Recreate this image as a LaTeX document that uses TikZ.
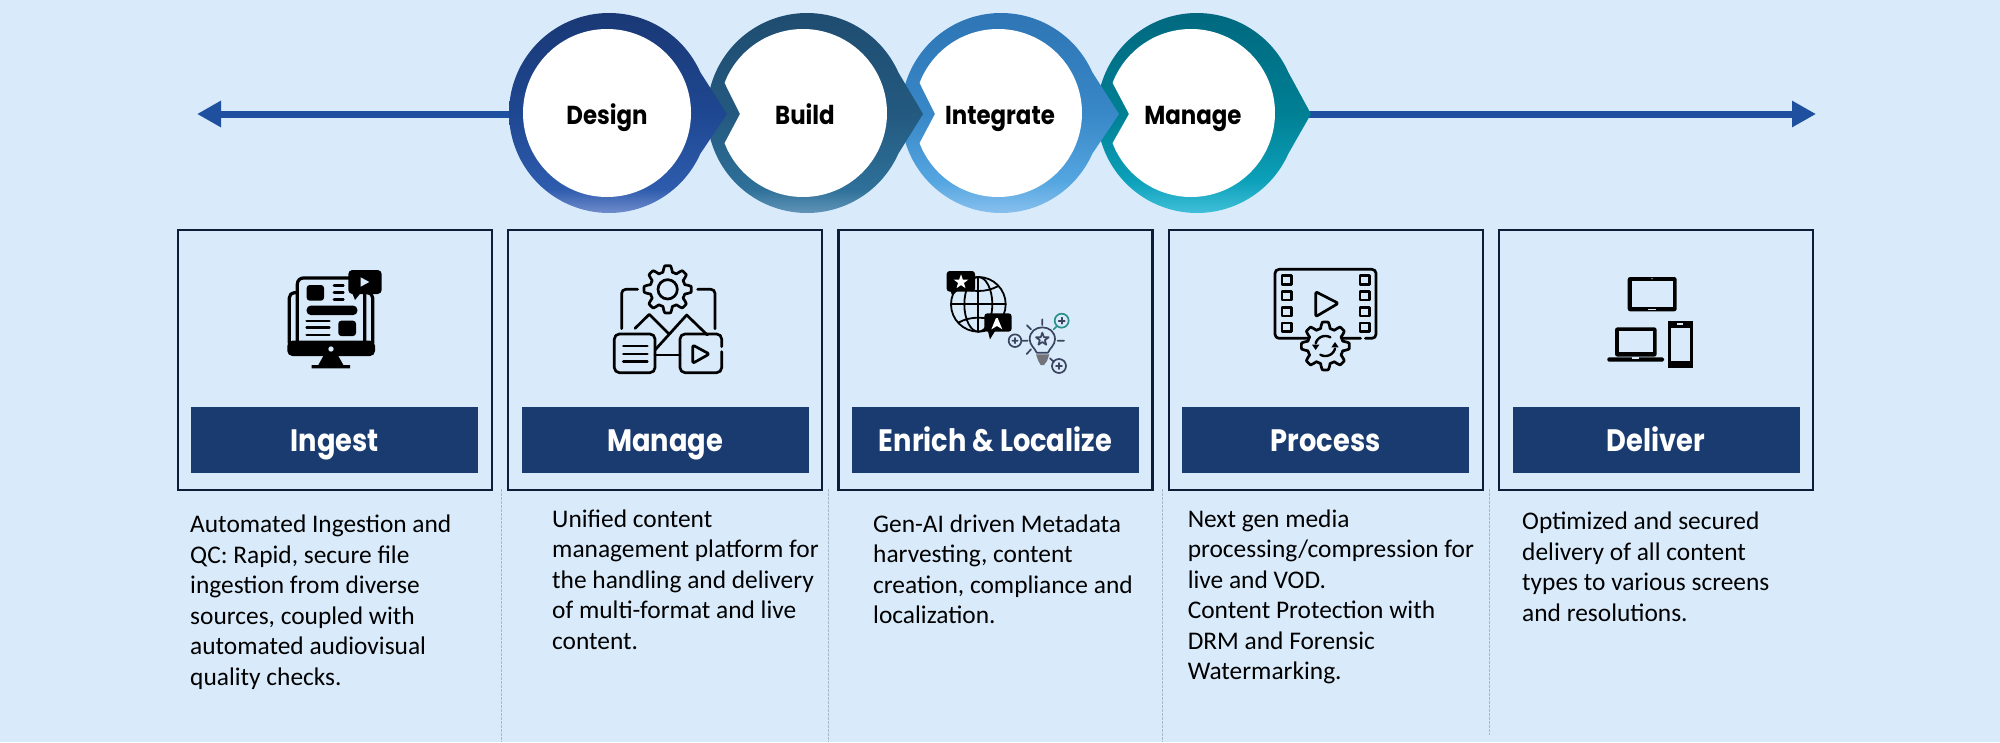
\documentclass[tikz,border=0pt]{standalone}
\usepackage{fontspec}
\usetikzlibrary{arrows.meta,calc}
\newfontfamily\headfont{Poppins}[BoldFeatures={FakeStretch=0.88}]
\newfontfamily\bodyfont{Carlito}
\definecolor{bgc}{HTML}{D9EBFB}
\definecolor{barc}{HTML}{1A3B70}
\definecolor{edgec}{HTML}{0D1D38}
\definecolor{linec}{HTML}{1F4F9F}
\definecolor{divc}{HTML}{A9BACA}
\definecolor{bulbc}{HTML}{3C4560}
\definecolor{tealc}{HTML}{2B8F8A}
\pgfdeclareverticalshading{ringD}{100bp}{rgb(0bp)=(0.44,0.55,0.80);rgb(25bp)=(0.44,0.55,0.80);rgb(31bp)=(0.18,0.36,0.68);rgb(50bp)=(0.12,0.28,0.57);rgb(75bp)=(0.10,0.22,0.46);rgb(100bp)=(0.10,0.22,0.46)}
\pgfdeclareverticalshading{ringB}{100bp}{rgb(0bp)=(0.38,0.58,0.72);rgb(25bp)=(0.38,0.58,0.72);rgb(31bp)=(0.18,0.44,0.60);rgb(50bp)=(0.14,0.35,0.50);rgb(75bp)=(0.12,0.30,0.44);rgb(100bp)=(0.12,0.30,0.44)}
\pgfdeclareverticalshading{ringI}{100bp}{rgb(0bp)=(0.53,0.75,0.93);rgb(25bp)=(0.53,0.75,0.93);rgb(33bp)=(0.33,0.65,0.88);rgb(50bp)=(0.22,0.53,0.78);rgb(75bp)=(0.18,0.46,0.71);rgb(100bp)=(0.18,0.46,0.71)}
\pgfdeclareverticalshading{ringM}{100bp}{rgb(0bp)=(0.25,0.75,0.85);rgb(25bp)=(0.25,0.75,0.85);rgb(33bp)=(0.05,0.63,0.73);rgb(50bp)=(0.00,0.50,0.58);rgb(75bp)=(0.00,0.41,0.50);rgb(100bp)=(0.00,0.41,0.50)}
\newcommand{\ringout}[3]{\shade[shading=#3] plot[domain=24:336,samples=140] ({#1+100*cos(\x)},{113+100*sin(\x)}) -- (#2,114) -- cycle;}
\newcommand{\whitenotch}[2]{\fill[white] plot[domain=201:519,samples=140] ({#1+84*cos(\x)},{113+84*sin(\x)}) -- (#2,114) -- cycle;}
\newcommand{\gearpath}[5]{plot[domain=0:360,samples=241] ({#1+(#3+#4*max(-1,min(1,1.8*cos(#5*\x))))*cos(\x)},{#2+(#3+#4*max(-1,min(1,1.8*cos(#5*\x))))*sin(\x)}) -- cycle}
\newcommand{\starpath}[3]{plot[samples at={0,1,...,9}] ({#1+#3*(0.7+0.3*cos(180*\x))*cos(-90+36*\x)},{#2+#3*(0.7+0.3*cos(180*\x))*sin(-90+36*\x)}) -- cycle}
\tikzset{
 x=1pt,y=-1pt,
 cardbox/.style={draw=edgec,line width=2.3pt,minimum width=314pt,minimum height=259.5pt,inner sep=0pt},
 cardbar/.style={fill=barc,text=white,minimum width=287pt,minimum height=66pt,inner sep=0pt,text height=23.6pt,text depth=1pt,font=\headfont\bfseries\fontsize{31}{33}\selectfont},
 ringlabel/.style={text=black,inner sep=0pt,text height=20pt,text depth=0pt,font=\headfont\bfseries\fontsize{26}{28}\selectfont},
 bodytext/.style={anchor=north west,inner sep=0pt,align=left,text=black,font=\bodyfont\fontsize{25.4}{30.45}\selectfont},
 divider/.style={draw=divc,line width=0.9pt,dash pattern=on 2.5pt off 1.5pt},
 mainline/.style={draw=linec,line width=7pt,-{Triangle[length=24pt,width=25pt]}},
 icon/.style={x=0.33333pt,y=-0.33333pt,line cap=round,line join=round},
 ink/.style={draw=black,line width=2.7pt}
}
\newcommand{\st}{\rule{0pt}{20pt}}
\begin{document}
\begin{tikzpicture}
\useasboundingbox (0,0) rectangle (2000,742);
\fill[bgc] (0,0) rectangle (2000,742);
% dividers
\coordinate (d1a) at (501.8,489); \coordinate (d1b) at (501.8,742);
\coordinate (d2a) at (828.5,489); \coordinate (d2b) at (828.5,742);
\coordinate (d3a) at (1162,489); \coordinate (d3b) at (1162,742);
\coordinate (d4a) at (1489,489); \coordinate (d4b) at (1489,735);
\draw[divider] (d1a)--(d1b); \draw[divider] (d2a)--(d2b); \draw[divider] (d3a)--(d3b); \draw[divider] (d4a)--(d4b);
% main line
\coordinate (leftend) at (197,114); \coordinate (rightend) at (1816,114);
\coordinate (leftstart) at (515,114); \coordinate (rightstart) at (1305,114);
\draw[mainline] (leftstart) -- (leftend);
\draw[mainline] (rightstart) -- (rightend);
% rings
\ringout{1197}{1311}{ringM}
\whitenotch{1191}{1129}
\ringout{1001}{1119}{ringI}
\whitenotch{998}{935}
\ringout{807}{923}{ringB}
\whitenotch{803}{740}
\ringout{609}{727}{ringD}
\fill[white] (607,113) circle[radius=84];
\node[ringlabel] (design) at (607,114) {Design};
\node[ringlabel] (build) at (805,114) {Build};
\node[ringlabel] (integrate) at (1000,114) {Integrate};
\node[ringlabel] (manage1) at (1193,114) {Manage};
% cards
\node[cardbox] (c1) at (334.8,360) {};
\node[cardbox] (c2) at (665.1,360) {};
\node[cardbox] (c3) at (995.4,360) {};
\node[cardbox] (c4) at (1325.7,360) {};
\node[cardbox] (c5) at (1656,360) {};
\node[cardbar] (b1) at (334.8,439.7) {Ingest};
\node[cardbar] (b2) at (665.1,439.7) {Manage};
\node[cardbar] (b3) at (995.4,439.7) {Enrich \& Localize};
\node[cardbar] (b4) at (1325.7,439.7) {Process};
\node[cardbar] (b5) at (1656,439.7) {Deliver};
% texts
\node[bodytext] (t1) at (190,512.7) {\st Automated Ingestion and\\QC: Rapid, secure file\\ingestion from diverse\\sources, coupled with\\automated audiovisual\\quality checks.};
\node[bodytext] (t2) at (552,507) {\st Unified content\\management platform for\\the handling and delivery\\of multi-format and live\\content.};
\node[bodytext] (t3) at (873,512) {\st Gen-AI driven Metadata\\harvesting, content\\creation, compliance and\\localization.};
\node[bodytext] (t4) at (1187.6,507) {\st Next gen media\\processing/compression for\\live and VOD.\\Content Protection with\\DRM and Forensic\\Watermarking.};
\node[bodytext] (t5) at (1522,509.7) {\st Optimized and secured\\delivery of all content\\types to various screens\\and resolutions.};
% icon 1
\begin{scope}[shift={(260,250)},icon]
 \draw[ink,line width=3.2pt,rounded corners=5pt] (88,280)--(88,128)--(110,128);
 \draw[ink,line width=3.2pt,rounded corners=5pt] (338,280)--(338,128)--(320,128);
 \draw[ink,line width=3.2pt,rounded corners=6pt] (112,280)--(112,84)--(314,84)--(314,280);
 \fill[black,rounded corners=5pt] (82,272) rectangle (345,318);
 \fill[bgc] (213,297) circle[radius=8];
 \fill[black] (190,318)--(235,318)--(250,345)--(270,345)--(270,355)--(155,355)--(155,345)--(175,345)--cycle;
 \fill[black,rounded corners=3pt] (140,105) rectangle (192,152);
 \foreach \yy in {106,127,148}{\draw[black,line width=2.7pt] (222,\yy)--(250,\yy);}
 \fill[black,rounded corners=4pt] (140,167) rectangle (292,195);
 \foreach \yy in {213,233,255}{\draw[black,line width=2.7pt] (140,\yy)--(208,\yy);}
 \fill[black,rounded corners=3pt] (235,212) rectangle (288,258);
 \fill[black,rounded corners=4pt] (265,60) rectangle (365,132);
 \fill[black] (275,125)--(285,150)--(305,125)--cycle;
 \fill[bgc] (302,82)--(302,110)--(328,96)--cycle;
\end{scope}
% icon 2
\begin{scope}[shift={(590,250)},icon]
 \draw[ink] \gearpath{233}{118}{62}{9}{8};
 \draw[ink] (233,118) circle[radius=29];
 \draw[ink,rounded corners=4pt] (95,236)--(95,118)--(143,118);
 \draw[ink,rounded corners=4pt] (323,118)--(375,118)--(375,236);
 \draw[ink] (135,235)--(178,193)--(235,250);
 \draw[ink] (195,300)--(290,195)--(352,255);
 \draw[ink,rounded corners=5pt] (73,252) rectangle (195,368);
 \foreach \yy in {288,312,335}{\draw[ink] (100,\yy)--(172,\yy);}
 \draw[ink,rounded corners=5pt] (395,290)--(395,252)--(270,252)--(270,368)--(395,368)--(395,305);
 \draw[ink] (195,315)--(270,315);
 \draw[ink,rounded corners=2pt] (308,285)--(308,340)--(358,312)--cycle;
\end{scope}
% icon 3
\begin{scope}[shift={(925,250)},icon]
 \draw[black,line width=1.8pt] (160,163) circle[radius=82];
 \draw[black,line width=1.8pt] (160,163) ellipse[x radius=42,y radius=82];
 \draw[black,line width=1.8pt] (160,81)--(160,245) (78,163)--(242,163);
 \draw[black,line width=1.8pt] (100,108) .. controls (135,128) and (185,128) .. (220,108);
 \draw[black,line width=1.8pt] (100,218) .. controls (135,198) and (185,198) .. (220,218);
 \fill[black,rounded corners=3pt] (65,63) rectangle (150,125);
 \fill[black] (75,120)--(82,137)--(100,120)--cycle;
 \fill[white] \starpath{108}{96}{23};
 \fill[black,rounded corners=3pt] (178,190) rectangle (260,245);
 \fill[black] (188,240)--(195,268)--(212,240)--cycle;
 \fill[white] (199,238)--(213,204)--(218,204)--(232,238)--(216,228)--cycle;
 \begin{scope}[bulbc,line width=1.7pt]
  \draw (335,308) .. controls (330,295) and (314,285) .. (314,268) .. controls (314,245) and (332,232) .. (352,232) .. controls (372,232) and (390,245) .. (390,268) .. controls (390,285) and (374,295) .. (369,308) -- cycle;
  \draw \starpath{352}{268}{20};
  \draw (352,208)--(352,225) (306,226)--(318,238) (398,272)--(417,272) (305,312)--(318,298);
  \fill[gray!80!bulbc] (333,313)--(373,313)--(366,333)--(357,345)--(347,345)--(340,333)--cycle;
  \draw (270,272) circle[radius=19] (258,272) (290,272)--(308,272) (270,264)--(270,280) (262,272)--(278,272);
  \draw (402,348) circle[radius=21] (375,325)--(387,336) (402,339)--(402,357) (393,348)--(411,348);
 \end{scope}
 \draw[tealc,line width=1.7pt] (410,212) circle[radius=21] (386,238)--(396,228);
 \draw[bulbc,line width=1.7pt] (410,203)--(410,221) (401,212)--(419,212);
\end{scope}
% icon 4
\begin{scope}[shift={(1250,250)},icon]
 \draw[ink,rounded corners=4pt] (332,265)--(75,265)--(75,58)--(378,58)--(378,265)--(346,265);
 \foreach \yy in {90,137,185,232}{
  \draw[ink,line width=2.4pt] (96,\yy-13) rectangle (124,\yy+13);
  \draw[ink,line width=2.4pt] (330,\yy-13) rectangle (358,\yy+13);
 }
 \draw[ink,rounded corners=2pt] (197,125)--(197,200)--(265,160)--cycle;
 \fill[bgc] \gearpath{226}{288}{63}{9}{8};
 \draw[ink] \gearpath{226}{288}{63}{9}{8};
 \draw[black,line width=2.4pt] plot[domain=195:300,samples=20] ({226+30*cos(\x)},{288+30*sin(\x)});
 \draw[black,line width=2.4pt] plot[domain=15:120,samples=20] ({226+30*cos(\x)},{288+30*sin(\x)});
 \fill[black] (186,284)--(208,284)--(197,300)--cycle;
 \fill[black] (244,292)--(266,292)--(255,276)--cycle;
\end{scope}
% icon 5
\begin{scope}[shift={(1580,250)},icon]
 \fill[black,rounded corners=2.5pt] (143,81) rectangle (290,184);
 \fill[bgc] (156,92) rectangle (278,172);
 \fill[bgc] (205,176.5) rectangle (228,180);
 \fill[bgc] (216,86) circle[radius=2];
 \fill[black,rounded corners=2.5pt] (105,232) rectangle (230,320);
 \fill[bgc] (116,243) rectangle (219,306);
 \fill[black,rounded corners=1.5pt] (82,322) rectangle (252,335);
 \fill[bgc] (155,320) rectangle (178,327);
 \fill[black] (263,213) rectangle (338,353);
 \fill[bgc] (273,233) rectangle (329,332);
 \fill[bgc] (292,220) rectangle (310,226);
\end{scope}
\end{tikzpicture}
\end{document}
